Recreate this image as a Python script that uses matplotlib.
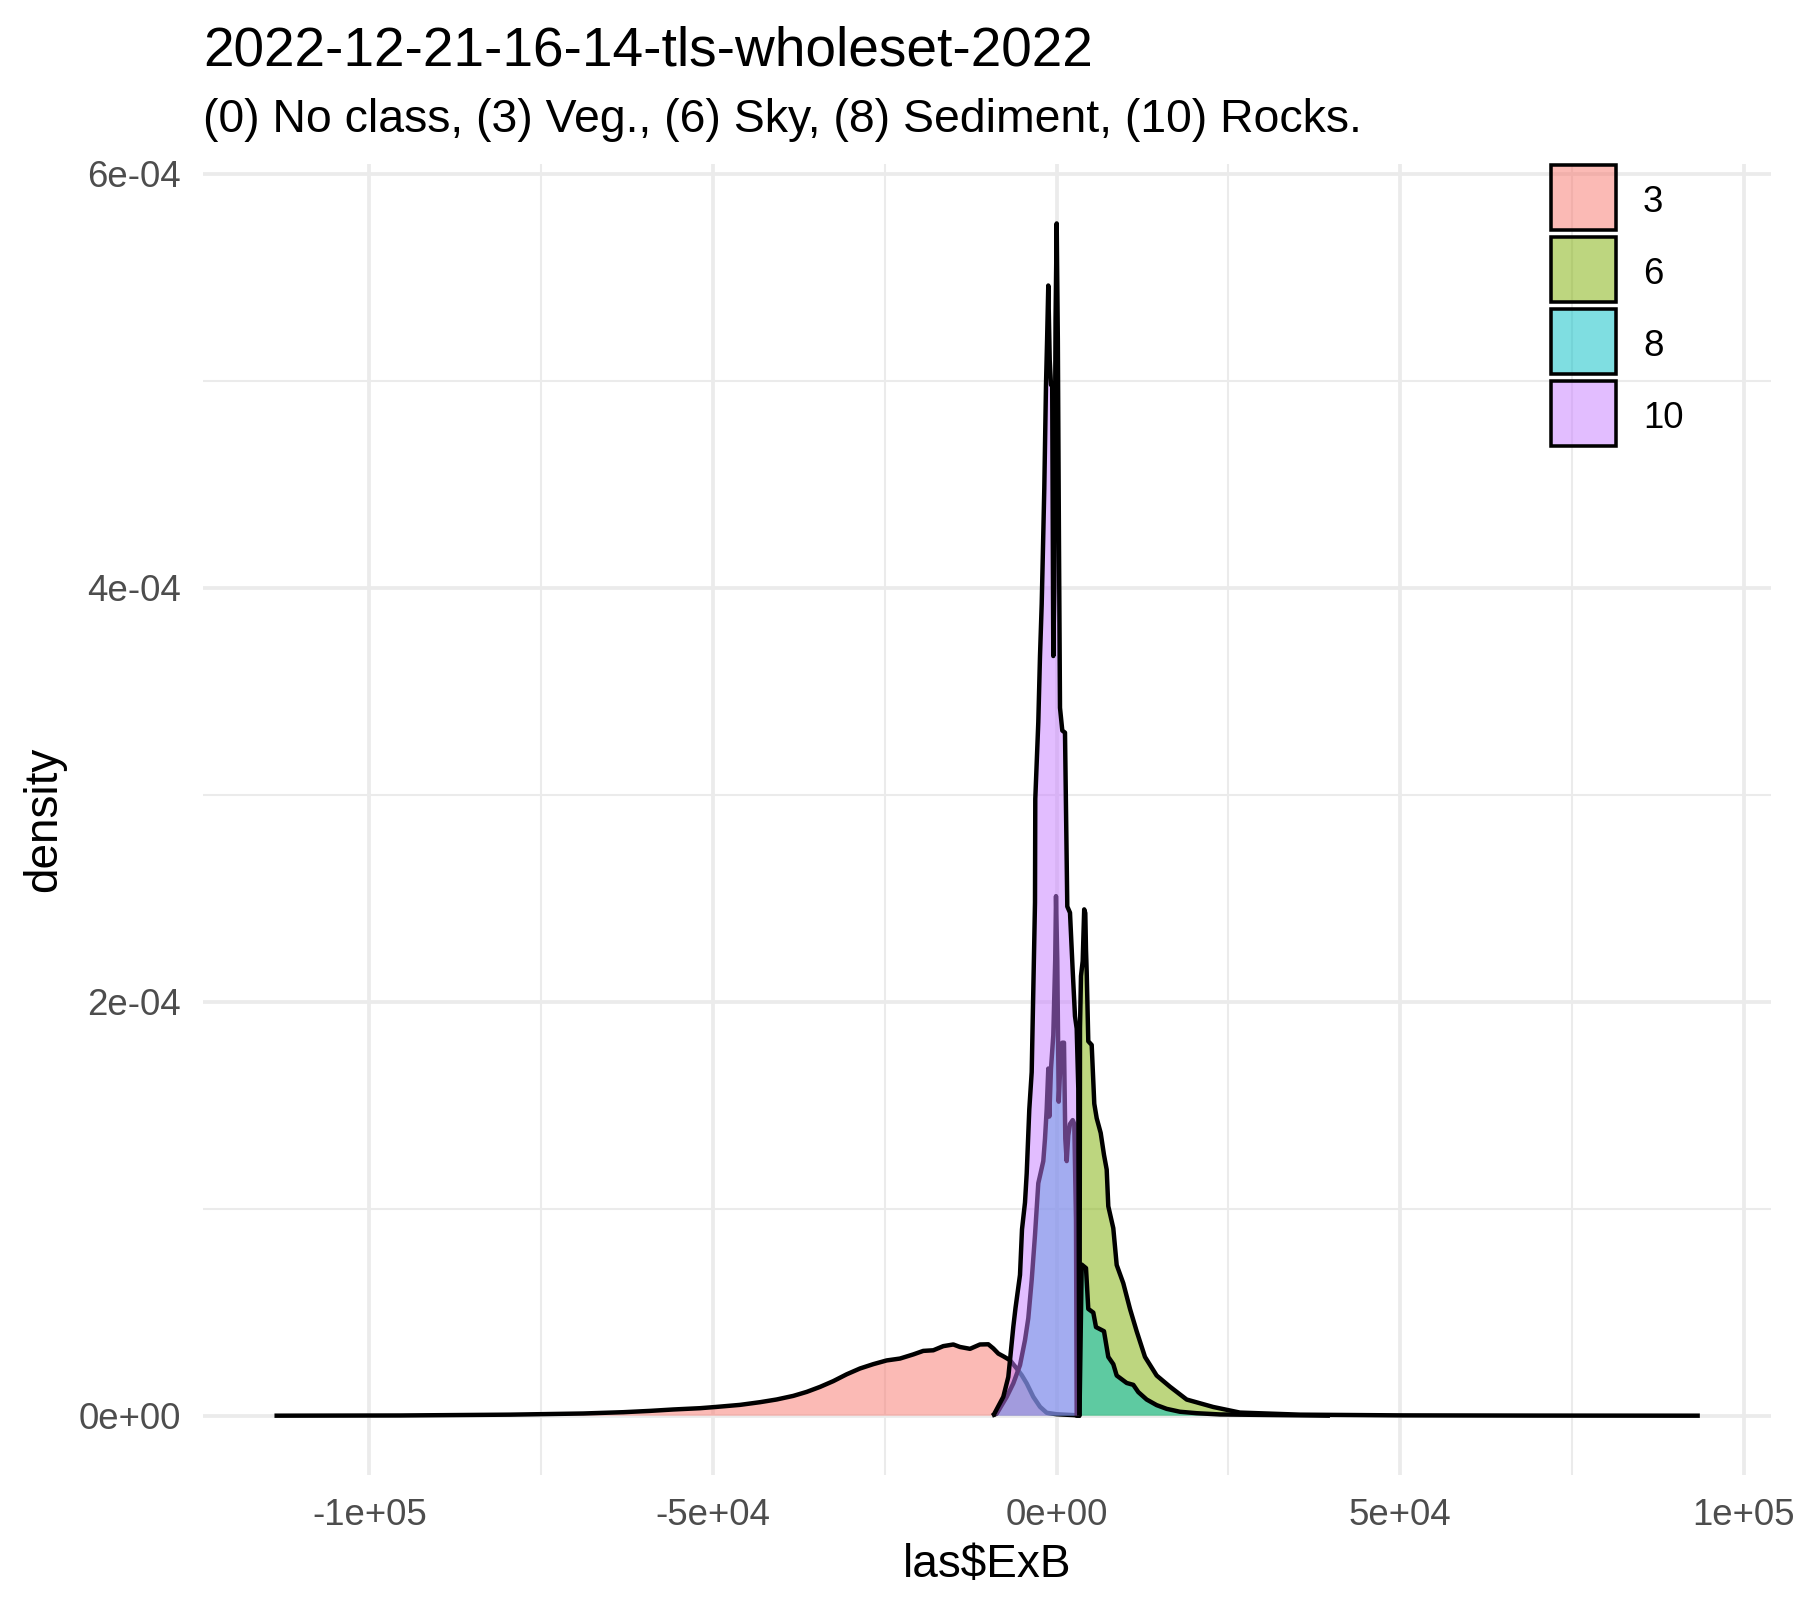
import matplotlib
matplotlib.use("Agg")
import matplotlib.pyplot as plt
from matplotlib.patches import Rectangle
from matplotlib.colors import to_rgba

plt.rcParams['font.family'] = ['Liberation Sans', 'DejaVu Sans']

# ---------------- data ----------------
title = "2022-12-21-16-14-tls-wholeset-2022"
subtitle = "(0) No class, (3) Veg., (6) Sky, (8) Sediment, (10) Rocks."
x_label = "las$ExB"
y_label = "density"

classes = ["3", "6", "8", "10"]
fill_colors = ["#F8766D", "#7CAE00", "#00BFC4", "#C77CFF"]

# class 3 (Veg.)
x3 = [-113810, -95540, -79530, -68870, -63050, -59160, -55770, -51890, -49460,
      -46070, -43160, -40730, -38310, -36360, -34430, -32490, -30540, -28610,
      -26670, -24720, -22790, -20850, -19400, -17940, -16490, -15030, -14060,
      -12600, -11150, -9940, -9210, -8480, -7755, -6780, -5805, -5078, -4350,
      -3390, -2415, -1440, 0, 2390, 3500]
d3 = [0, 1e-7, 5e-7, 1.06e-6, 1.69e-6, 2.32e-6, 3.0e-6, 3.62e-6, 4.25e-6,
      5.22e-6, 6.52e-6, 7.83e-6, 9.57e-6, 1.15e-5, 1.39e-5, 1.67e-5, 2.0e-5, 2.28e-5,
      2.49e-5, 2.67e-5, 2.76e-5, 2.96e-5, 3.13e-5, 3.16e-5, 3.36e-5, 3.44e-5, 3.32e-5,
      3.23e-5, 3.44e-5, 3.45e-5, 3.25e-5, 3.0e-5, 2.87e-5, 2.68e-5, 2.28e-5, 1.96e-5, 1.56e-5,
      9.1e-6, 4.3e-6, 1.4e-6, 7e-7, 3e-7, 0]

# class 6 (Sky)
x6 = [3332, 3405, 3550, 3798, 4016, 4176, 4278, 4380, 4612, 5107, 5485, 5835,
      6417, 6897, 7290, 7522, 8250, 8745, 9705, 10680, 11650, 12860, 14560,
      16500, 18930, 22800, 26680, 35400, 49950, 70000, 93600]
d6 = [0, 1.874e-4, 2.124e-4, 2.196e-4, 2.446e-4, 2.428e-4, 2.252e-4, 2.145e-4,
      1.809e-4, 1.791e-4, 1.507e-4, 1.437e-4, 1.366e-4, 1.26e-4, 1.189e-4, 1.012e-4,
      9.06e-5, 7.28e-5, 6.40e-5, 5.16e-5, 4.08e-5, 2.84e-5, 1.94e-5, 1.40e-5, 7.8e-6,
      4.2e-6, 1.5e-6, 5e-7, 1.5e-7, 5e-8, 0]

# class 8 (Sediment)
x8 = [-9400, -8715, -7260, -6300, -5325, -4598, -4118, -3623, -3143, -2663, -2415,
      -1935, -1688, -1440, -1208, -1062, -815, -480, -204, -87, 102, 306, 597, 829,
      1077, 1266, 1470, 1702, 1950, 2343, 2575, 2823, 2925, 3332, 3652, 4278, 4612,
      5340, 5733, 6897, 7522, 8250, 8745, 10200, 11160, 11890, 13110, 14560, 16020,
      17950, 20380, 23770, 39780]
d8 = [0, 1e-6, 9.1e-6, 1.56e-5, 2.44e-5, 3.65e-5, 4.71e-5, 6.55e-5, 8.72e-5, 1.123e-4,
      1.159e-4, 1.23e-4, 1.338e-4, 1.481e-4, 1.677e-4, 1.445e-4, 1.677e-4, 1.838e-4,
      2.2e-4, 2.51e-4, 2.196e-4, 1.517e-4, 1.731e-4, 1.802e-4, 1.802e-4, 1.338e-4,
      1.23e-4, 1.355e-4, 1.409e-4, 1.428e-4, 1.409e-4, 9.44e-5, 0, 0, 7.3e-5, 7.13e-5,
      5.16e-5, 4.98e-5, 4.28e-5, 4.08e-5, 2.84e-5, 2.49e-5, 1.94e-5, 1.58e-5, 1.49e-5,
      1.14e-5, 7.8e-6, 5.1e-6, 3.3e-6, 1.9e-6, 1.2e-6, 6e-7, 0]

# class 10 (Rocks)
x10 = [-9210, -7755, -7028, -6780, -6300, -5980, -5325, -5034, -4598, -4350, -3972,
       -3623, -3434, -3245, -3143, -3100, -2663, -2415, -2168, -2022, -1790, -1542,
       -1380, -1210, -1000, -815, -640, -480, -335, -150, 15, 180, 349, 495, 829,
       1222, 1557, 1950, 2343, 2677, 2925, 3157, 3303]
d10 = [0, 9.1e-6, 1.87e-5, 2.68e-5, 4.29e-5, 5.2e-5, 6.8e-5, 9.0e-5, 1.03e-4, 1.17e-4,
       1.48e-4, 1.66e-4, 1.98e-4, 2.3e-4, 2.48e-4, 2.98e-4, 3.35e-4, 3.67e-4, 3.92e-4,
       4.13e-4, 4.48e-4, 4.98e-4, 5.2e-4, 5.46e-4, 5.1e-4, 4.98e-4, 4.98e-4, 3.67e-4,
       4.0e-4, 5.3e-4, 5.76e-4, 5.2e-4, 4.2e-4, 3.42e-4, 3.31e-4, 3.30e-4, 2.46e-4,
       2.43e-4, 2.15e-4, 1.93e-4, 1.87e-4, 1.58e-4, 0]

x_major = [-1e5, -5e4, 0, 5e4, 1e5]
x_major_labels = ["-1e+05", "-5e+04", "0e+00", "5e+04", "1e+05"]
x_minor = [-7.5e4, -2.5e4, 2.5e4, 7.5e4]
y_major = [0, 2e-4, 4e-4, 6e-4]
y_major_labels = ["0e+00", "2e-04", "4e-04", "6e-04"]
y_minor = [1e-4, 3e-4, 5e-4]

# ---------------- figure ----------------
W, H = 1796, 1609
DPI = 300
fig = plt.figure(figsize=(W / DPI, H / DPI), dpi=DPI)
fig.patch.set_facecolor("white")

L, R, T, B = 203.2, 1771.1, 163.8, 1475.3
ax = fig.add_axes([L / W, 1 - B / H, (R - L) / W, (B - T) / H])
ax.set_facecolor("white")

series = [(x3, d3), (x6, d6), (x8, d8), (x10, d10)]
LW = 1.067
for i, ((xs, ds), c) in enumerate(zip(series, fill_colors)):
    ax.fill_between(xs, ds, 0, facecolor=c, alpha=0.5, linewidth=0, zorder=3 + 2 * i)
    ax.plot(xs, ds, color="black", lw=LW, solid_joinstyle="round",
            solid_capstyle="butt", zorder=4 + 2 * i)

all_x = [v for xs, _ in series for v in xs]
all_d = [v for _, ds in series for v in ds]
xmin, xmax = min(all_x), max(all_x)
xr = xmax - xmin
ax.set_xlim(xmin - 0.05 * xr, xmax + 0.05 * xr)
ymax = max(all_d)
ax.set_ylim(-0.05 * ymax, 1.05 * ymax)

ax.set_xticks(x_major)
ax.set_xticklabels(x_major_labels)
ax.set_xticks(x_minor, minor=True)
ax.set_yticks(y_major)
ax.set_yticklabels(y_major_labels)
ax.set_yticks(y_minor, minor=True)
ax.set_axisbelow(True)
ax.grid(which="major", color="#EBEBEB", lw=0.9, solid_capstyle="butt")
ax.grid(which="minor", color="#EBEBEB", lw=0.5, solid_capstyle="butt")
ax.tick_params(which="both", length=0)
ax.tick_params(axis="x", pad=5.45, labelsize=8.8, labelcolor="#4D4D4D")
ax.tick_params(axis="y", pad=5.4, labelsize=8.8, labelcolor="#4D4D4D")
for s in ax.spines.values():
    s.set_visible(False)

# titles
fig.text(L / W, 1 - 65 / H, title, fontsize=13.2, ha="left", va="baseline")
fig.text(L / W, 1 - 131.7 / H, subtitle, fontsize=11.14, ha="left", va="baseline")

# axis titles
fig.text(((L + R) / 2) / W, 1 - 1576.7 / H, x_label, fontsize=11, ha="center", va="baseline")
fig.text(55.8 / W, 1 - ((T + B) / 2) / H, y_label, fontsize=11, rotation=90,
         rotation_mode="anchor", ha="center", va="baseline")

# legend (manual, ggplot style)
key_cx, key_cy0, key_pitch, key_size = 1583.5, 197.9, 72.0, 65.0
for i, (lab, c) in enumerate(zip(classes, fill_colors)):
    cy = key_cy0 + key_pitch * i
    rect = Rectangle(((key_cx - key_size / 2) / W, 1 - (cy + key_size / 2) / H),
                     key_size / W, key_size / H, transform=fig.transFigure,
                     facecolor=to_rgba(c, 0.5), edgecolor="black", linewidth=0.85,
                     joinstyle="miter")
    fig.add_artist(rect)
    fig.text(1643 / W, 1 - (cy + 14.0) / H, lab, fontsize=8.8, ha="left", va="baseline")

fig.savefig("out.png", dpi=DPI)
